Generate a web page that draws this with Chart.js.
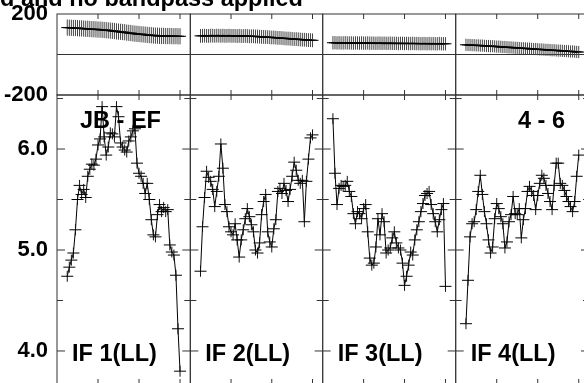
<!DOCTYPE html>
<html>
<head>
<meta charset="utf-8">
<script src="https://cdn.jsdelivr.net/npm/chart.js@4.4.0/dist/chart.umd.min.js"></script>
<style>
  body { margin: 0; width: 584px; height: 383px; overflow: hidden; background: #fff; position: relative; }
  canvas { position: absolute; left: 0; top: 0; }
  .lbl { position: absolute; font: bold 23.5px "Liberation Sans", Arial, sans-serif; line-height: 23px; white-space: nowrap; color: #000; }
</style>
</head>
<body>
<script>
// Kanäle (x-Achse) und Achsenbeschriftungen
const channels = [5, 6, 7, 8, 9, 10, 11, 12, 13, 14, 15, 16, 17, 18, 19, 20, 21, 22, 23, 24,
  25, 26, 27, 28, 29, 30, 31, 32, 33, 34, 35, 36, 37, 38, 39, 40, 41, 42, 43, 44,
  45, 46, 47, 48, 49, 50, 51, 52, 53, 54, 55, 56, 57, 58, 59, 60];
const xTicks = [20, 40, 60];
const ampTicks = [4.0, 5.0, 6.0];
const ampMinor = [4.5, 5.5, 6.5];
const phaseTicks = [-200, 200];
const ifLabels = ['IF 1(LL)', 'IF 2(LL)', 'IF 3(LL)', 'IF 4(LL)'];
const titleText = 'd and no bandpass applied';
const baselineText = 'JB - EF';
const stokesText = '4 - 6';

// Amplituden je IF
const amp1 = [4.74, 4.83, 4.90, 4.97, 5.20, 5.50, 5.64, 5.55, 5.60, 5.52,
  5.73, 5.80, 5.85, 5.84, 5.90, 6.04, 6.10, 6.42, 6.12, 5.94,
  6.02, 6.16, 6.15, 6.12, 6.42, 6.32, 6.06, 6.02, 5.99, 5.97,
  6.08, 6.12, 6.18, 6.20, 5.86, 5.76, 5.73, 5.66, 5.56, 5.66,
  5.50, 5.30, 5.15, 5.13, 5.35, 5.45, 5.38, 5.42, 5.38, 5.40,
  5.05, 4.98, 4.95, 4.75, 4.22, 3.80];
const amp2 = [4.79, 5.23, 5.52, 5.78, 5.72, 5.68, 5.60, 5.43, 5.58, 5.73,
  6.05, 5.81, 5.45, 5.38, 5.23, 5.18, 5.15, 5.26, 5.10, 4.93,
  5.10, 5.20, 5.31, 5.41, 5.33, 5.25, 5.18, 5.00, 4.97, 5.07,
  5.35, 5.48, 5.55, 5.18, 5.08, 5.03, 5.21, 5.30, 5.58, 5.61,
  5.56, 5.66, 5.59, 5.48, 5.60, 5.73, 5.87, 5.79, 5.69, 5.66,
  5.69, 5.28, 5.68, 5.90, 6.11, 6.14];
const amp3 = [6.30, 5.76, 5.45, 5.61, 5.64, 5.63, 5.64, 5.68, 5.58, 5.53,
  5.36, 5.26, 5.38, 5.36, 5.31, 5.41, 5.45, 5.18, 4.92, 4.85,
  4.87, 5.03, 5.31, 5.15, 5.36, 5.28, 4.97, 5.00, 5.02, 5.12,
  5.18, 5.07, 5.02, 5.00, 4.87, 4.65, 4.74, 4.85, 4.98, 4.95,
  5.10, 5.20, 5.28, 5.38, 5.46, 5.54, 5.56, 5.58, 5.45, 5.36,
  5.28, 5.18, 5.30, 5.40, 5.46, 4.64];
const amp4 = [4.27, 4.70, 5.13, 5.26, 5.28, 5.40, 5.58, 5.74, 5.55, 5.38,
  5.26, 5.10, 4.97, 5.03, 5.31, 5.46, 5.41, 5.33, 5.26, 5.02,
  5.08, 5.28, 5.35, 5.53, 5.36, 5.35, 5.41, 5.12, 5.30, 5.41,
  5.58, 5.63, 5.58, 5.54, 5.40, 5.54, 5.66, 5.74, 5.71, 5.64,
  5.56, 5.48, 5.40, 5.64, 5.86, 5.86, 5.66, 5.64, 5.59, 5.53,
  5.48, 5.43, 5.38, 5.48, 5.73, 5.94];

// Phasen je IF (Grad)
const phase1 = [133, 132, 132, 131, 131, 130, 129, 129, 128, 127, 127, 126, 125, 125, 124, 123,
  123, 122, 121, 120, 119, 118, 117, 116, 114, 113, 112, 111, 110, 108, 107, 106, 104, 103,
  102, 101, 100, 99, 98, 97, 96, 95, 94, 93, 93, 92,
  92, 92, 91, 91, 91, 91, 90, 91, 90, 90];
const phase2 = [92, 92, 93, 92, 92, 93, 93, 92, 93, 93, 92, 93, 92, 92, 93, 92, 92, 92, 91, 92,
  91, 91, 92, 91, 90, 90, 90,
  89, 89, 88, 87, 87, 86, 86, 85, 84, 84, 83, 82, 82, 81, 80, 79, 79, 78, 77, 76,
  76, 75, 74, 73, 73, 72, 71, 71, 70];
const phase3 = [58, 58, 57, 58, 57, 57, 58, 57, 57, 57,
  56, 57, 57, 56, 57, 56, 56, 57, 56, 56,
  56, 55, 56, 56, 55, 56, 55, 55, 56, 55,
  55, 55, 54, 55, 55, 54, 55, 54, 54, 55,
  54, 54, 54, 53, 54, 54, 53, 54, 53, 54,
  53, 53, 54, 53, 53, 53];
const phase4 = [48, 47, 47, 46, 46, 45, 45, 44, 44, 43,
  42, 42, 41, 41, 40, 39, 39, 38, 37, 37,
  36, 35, 35, 34, 33, 33, 32, 31, 31, 30,
  29, 29, 28, 27, 27, 26, 25, 25, 24, 23,
  23, 22, 21, 21, 20, 19, 19, 18, 17, 17,
  16, 15, 15, 14, 13, 12];
const phaseErr = [40, 34, 33, 30];

const ampSeries = [amp1, amp2, amp3, amp4];
const phaseSeries = [phase1, phase2, phase3, phase4];

// Geometrie
const W = 600, H = 390;
const panelX = [57, 190.3, 322.7, 455.7, 589];
const phaseTop = 14, phaseBottom = 95;
const ampTop = 95, ampBottom = 384;

// Rahmen, Ticks und Kreuze zeichnen
const panelPlugin = {
  id: 'panel',
  beforeDatasetsDraw(chart, args, o) {
    const { ctx, chartArea: a } = chart;
    const x = chart.scales.x, y = chart.scales.y;
    ctx.save();
    ctx.strokeStyle = '#333';
    ctx.lineWidth = 1;
    ctx.strokeRect(a.left, a.top, a.right - a.left, a.bottom - a.top);
    ctx.beginPath();
    xTicks.forEach(v => {
      const px = x.getPixelForValue(v);
      ctx.moveTo(px, a.top); ctx.lineTo(px, a.top + 5);
      ctx.moveTo(px, a.bottom); ctx.lineTo(px, a.bottom - 5);
    });
    if (o.kind === 'amp') {
      ampTicks.forEach(v => {
        const py = y.getPixelForValue(v);
        ctx.moveTo(a.left, py); ctx.lineTo(a.left + 8, py);
        ctx.moveTo(a.right, py); ctx.lineTo(a.right - 8, py);
      });
      ampMinor.forEach(v => {
        const py = y.getPixelForValue(v);
        ctx.moveTo(a.left, py); ctx.lineTo(a.left + 6, py);
        ctx.moveTo(a.right, py); ctx.lineTo(a.right - 6, py);
      });
    } else {
      const py = y.getPixelForValue(0);
      ctx.moveTo(a.left, py); ctx.lineTo(a.right, py);
    }
    ctx.stroke();
    ctx.restore();
  },
  afterDatasetsDraw(chart, args, o) {
    const { ctx } = chart;
    const y = chart.scales.y;
    const meta = chart.getDatasetMeta(0);
    const vals = chart.data.datasets[0].data;
    ctx.save();
    meta.data.forEach((pt, i) => {
      let top, bot;
      if (o.kind === 'phase') {
        top = y.getPixelForValue(vals[i].y + o.err);
        bot = y.getPixelForValue(vals[i].y - o.err);
        ctx.strokeStyle = '#444';
      } else {
        top = pt.y - 5.5;
        bot = pt.y + 5.5;
        ctx.strokeStyle = '#111';
      }
      ctx.lineWidth = 1;
      ctx.beginPath();
      ctx.moveTo(pt.x, top); ctx.lineTo(pt.x, bot);
      ctx.stroke();
      ctx.strokeStyle = '#000';
      ctx.beginPath();
      ctx.moveTo(pt.x - 6, pt.y); ctx.lineTo(pt.x + 6, pt.y);
      ctx.stroke();
    });
    ctx.restore();
  }
};

function makeChart(i, kind) {
  const cv = document.createElement('canvas');
  cv.width = W; cv.height = H;
  document.body.appendChild(cv);
  const isAmp = kind === 'amp';
  const values = isAmp ? ampSeries[i] : phaseSeries[i];
  const top = isAmp ? ampTop : phaseTop;
  const bottom = isAmp ? ampBottom : phaseBottom;
  const showY = i === 0;
  new Chart(cv.getContext('2d'), {
    type: 'line',
    data: {
      datasets: [{
        data: channels.map((c, k) => ({ x: c, y: values[k] })),
        borderColor: '#000',
        borderWidth: isAmp ? 1 : 1.6,
        pointRadius: 0,
        tension: 0,
        fill: false
      }]
    },
    options: {
      responsive: false,
      animation: false,
      events: [],
      layout: {
        padding: { left: showY ? 0 : panelX[i], right: W - panelX[i + 1], top: top, bottom: H - bottom }
      },
      scales: {
        x: { type: 'linear', min: 0, max: 65, display: false },
        y: {
          min: isAmp ? 3.673 : -200,
          max: isAmp ? 6.535 : 200,
          display: showY,
          grid: { display: false, drawTicks: false },
          border: { display: false },
          afterBuildTicks: s => { s.ticks = (isAmp ? ampTicks : phaseTicks).map(v => ({ value: v })); },
          afterFit: s => {
            if (!showY) return;
            s.width = panelX[0]; s.paddingTop = 0; s.paddingBottom = 0;
          },
          ticks: {
            autoSkip: false,
            padding: 9,
            color: '#000',
            font: { family: '"Liberation Sans", Arial, sans-serif', size: 22, weight: 'bold' },
            callback: v => isAmp ? Number(v).toFixed(1) : String(v)
          }
        }
      },
      plugins: {
        legend: { display: false },
        tooltip: { enabled: false },
        panel: { kind: kind, err: phaseErr[i] }
      }
    },
    plugins: [panelPlugin]
  });
}

for (let i = 0; i < 4; i++) {
  makeChart(i, 'phase');
  makeChart(i, 'amp');
}

// Texte
function addLabel(text, left, baseline) {
  const d = document.createElement('div');
  d.className = 'lbl';
  d.textContent = text;
  d.style.left = left + 'px';
  d.style.top = (baseline - 19.5) + 'px';
  document.body.appendChild(d);
}
addLabel(titleText, 0, 6.5);
addLabel(baselineText, 80, 128);
addLabel(stokesText, 518, 128);
ifLabels.forEach((t, i) => addLabel(t, panelX[i] + 15, 361));
</script>
</body>
</html>
